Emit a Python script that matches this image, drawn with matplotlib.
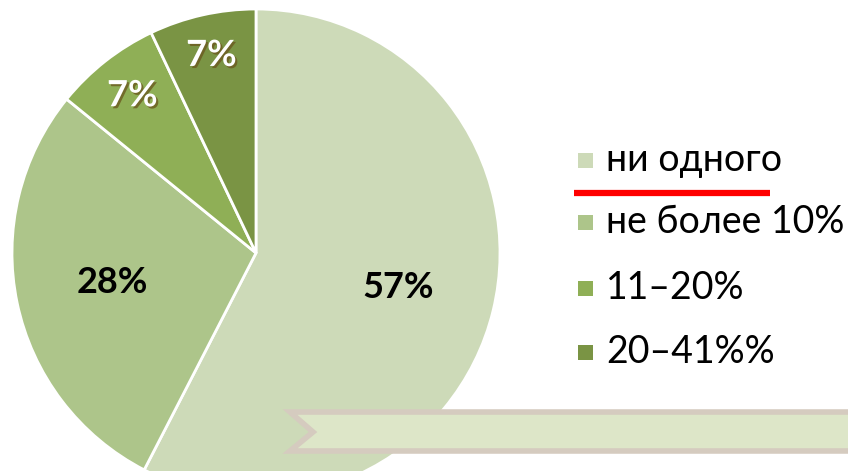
import numpy as np
import matplotlib.pyplot as plt
import matplotlib.patheffects as pe
from matplotlib.patches import Polygon, Rectangle

# данные
categories = ['ни одного', 'не более 10%', '11–20%', '20–41%%']
values = [57, 28, 7, 7]
colors = ['#cddab8', '#adc58a', '#8faf56', '#7a9444']

W, H = 848, 471
fig = plt.figure(figsize=(W / 100, H / 100), dpi=100)
ax = fig.add_axes([0, 0, 1, 1])

cx, cy, r = 256, H - 253, 244
wedges, _ = ax.pie(values, colors=colors, startangle=90, counterclock=False,
                   center=(cx, cy), radius=r,
                   wedgeprops=dict(edgecolor='white', linewidth=2))

# pie сбрасывает пределы, задаём после
ax.set_xlim(0, W)
ax.set_ylim(0, H)
ax.set_aspect('equal')
ax.axis('off')

# подписи процентов
lab_dist = [0.6, 0.6, 0.82, 0.83]
font = 'Lato'
for w, v, d, i in zip(wedges, values, lab_dist, range(len(values))):
    ang = np.deg2rad((w.theta1 + w.theta2) / 2)
    x = cx + d * r * np.cos(ang)
    y = cy + d * r * np.sin(ang)
    if i < 2:
        ax.text(x, y, f'{v}%', ha='center', va='center', fontsize=26,
                fontweight='bold', color='black', family=font)
    else:
        ax.text(x, y, f'{v}%', ha='center', va='center', fontsize=26,
                fontweight='bold', color='white', family=font,
                path_effects=[pe.withSimplePatchShadow(offset=(1.5, -1.5),
                                                       shadow_rgbFace='#6b5a20',
                                                       alpha=0.8)])

# легенда
leg_y = [160, 222, 288, 352]
for c, name, yy in zip(colors, categories, leg_y):
    ax.add_patch(Rectangle((578, H - yy - 8), 15, 15, facecolor=c, edgecolor='none'))
    ax.text(606, H - yy, name, ha='left', va='center', fontsize=27,
            color='black', family=font)

# красная черта под первым пунктом
ax.plot([574, 770], [H - 193, H - 193], color='red', linewidth=4.5,
        solid_capstyle='butt')

# лента внизу
banner = Polygon([(290, H - 412), (860, H - 412), (860, H - 451),
                  (290, H - 451), (313, H - 432)], closed=True,
                 facecolor='#dde6c8', edgecolor='#d5cbbf', linewidth=4,
                 joinstyle='miter', zorder=5)
ax.add_patch(banner)

fig.savefig('out.png', dpi=100)
